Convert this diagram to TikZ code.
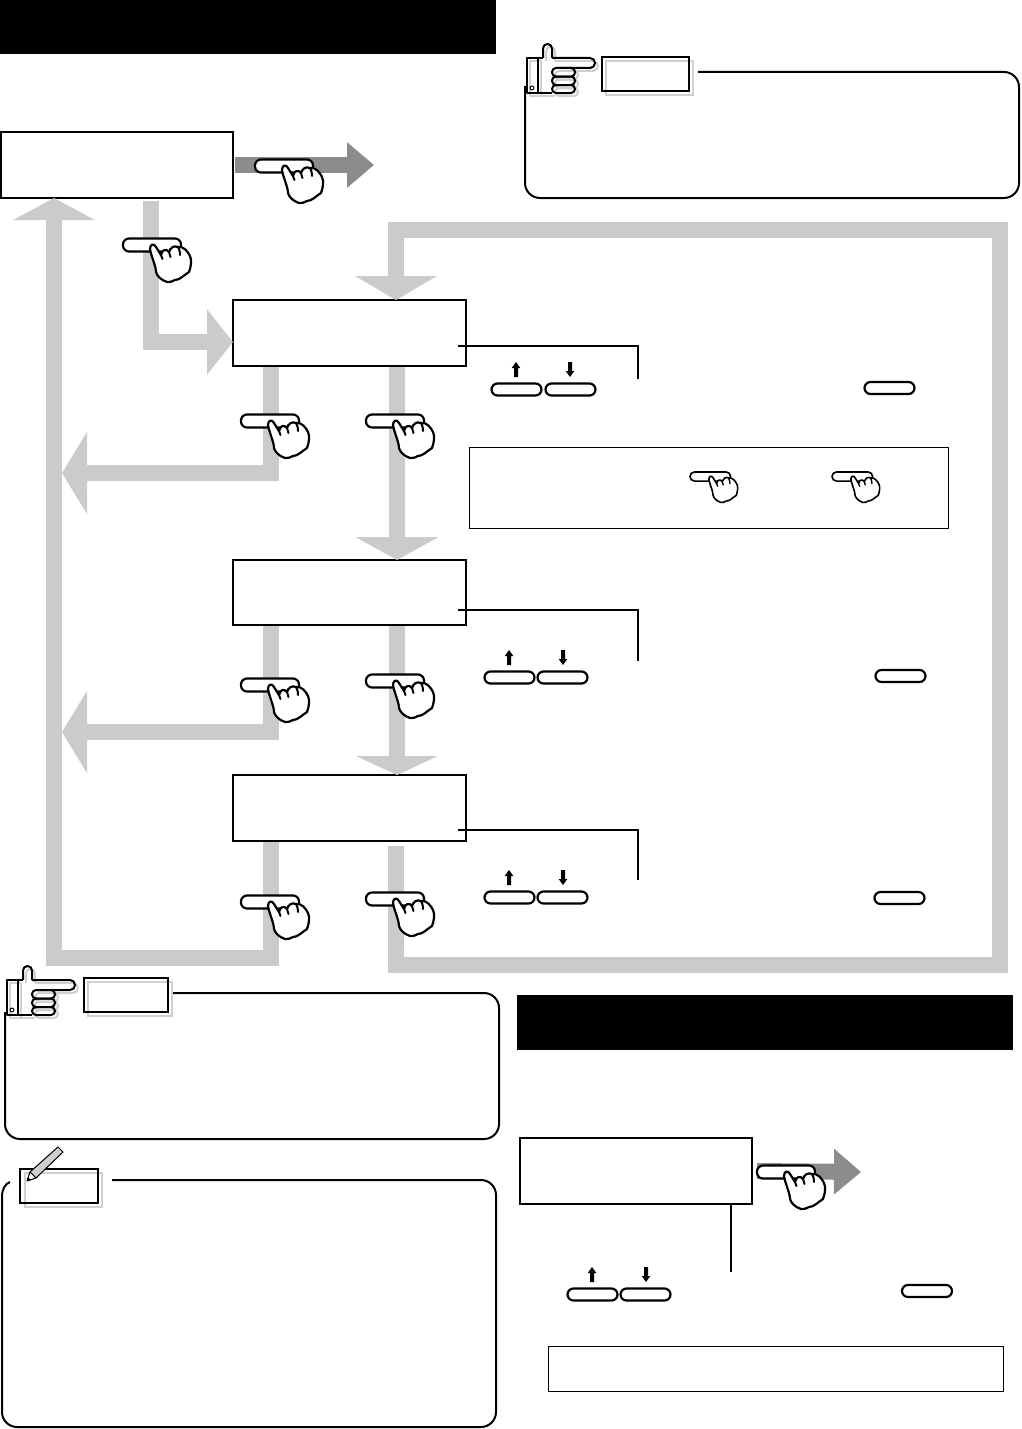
\documentclass[tikz,border=0pt]{standalone}
\usetikzlibrary{arrows.meta}
\definecolor{lightarrow}{HTML}{CBCBCB}
\definecolor{darkarrow}{HTML}{8C8C8C}
\definecolor{shadowgray}{HTML}{D0D0D0}
\newcommand{\handsilhouette}[2]{%
  \draw[handline=#1,fill=white]
    (27,4) .. controls (27,-1) and (31,-2) .. (33,2)
    -- (38,10)
    .. controls (39,5) and (43,3) .. (46,7)
    .. controls (47,3) and (51,0) .. (55,2)
    .. controls (61,1) and (65,7) .. (67,11)
    .. controls (69,15) and (68,22) .. (66,27)
    .. controls (61,30) and (57,35) .. (52,35)
    .. controls (49,36) and (47,38) .. (44,37)
    .. controls (38,35) and (34,31) .. (33,27)
    .. controls (33,21) and (28,11) .. (27,4) -- cycle;
  \draw[handline=#2] (38,10) -- (39.5,14);
  \draw[handline=#2] (46,7) -- (47.5,12);
  \draw[handline=#2] (55,2) .. controls (56,4) and (57,6) .. (57,10);
}
\tikzset{
  lcd/.style={draw=black,fill=white,line width=2pt,inner sep=0pt,outer sep=0pt},
  bar/.style={fill=black,inner sep=0pt,outer sep=0pt},
  thinbox/.style={draw=black,line width=1pt,inner sep=0pt,outer sep=0pt},
  keybtn/.style={draw=black,fill=white,line width=2.2pt,inner sep=0pt,outer sep=0pt,minimum width=50pt,minimum height=12pt,rounded corners=6pt},
  tagbox/.style={draw=black,line width=2.4pt,inner sep=0pt,outer sep=0pt},
  tagshadow/.style={draw=shadowgray,line width=2pt},
  notebox/.style={draw=black,line width=2pt,rounded corners=15pt},
  leader/.style={draw=black,line width=2pt},
  lightflow/.style={draw=lightarrow,line width=16pt},
  darkflow/.style={draw=darkarrow,line width=16pt},
  handline/.style={draw=black,line width=#1,line join=round,line cap=round},
  pressbtn/.pic={
    \draw[handline=2.2pt,fill=white,rounded corners=6pt] (0,-6.5) rectangle (58,6.5);
    \handsilhouette{2.2pt}{2pt}
  },
  smallpress/.pic={
    \begin{scope}[scale=.7]
      \draw[handline=1.6pt,fill=white,rounded corners=4.5pt] (0,-6.5) rectangle (58,6.5);
      \handsilhouette{1.6pt}{1.4pt}
    \end{scope}
  },
  uparrowkey/.pic={\fill[black] (-2,15) -- (-2,6) -- (-4.3,6) -- (0,0) -- (4.3,6) -- (2,6) -- (2,15) -- cycle;},
  downarrowkey/.pic={\fill[black] (-2,0) -- (-2,9) -- (-4.3,9) -- (0,15) -- (4.3,9) -- (2,9) -- (2,0) -- cycle;},
  pointhand/.pic={
    \begin{scope}[shift={(3,3)},draw=shadowgray,line width=2pt,line join=round]
      \draw (0,0) rectangle (11,35);
      \draw[rounded corners=4.4pt] (16,0) -- (16,-14) -- (25,-14) -- (25,0);
      \draw[rounded corners=4.9pt] (25,0) -- (68,0) -- (68,10) -- (30,10);
      \draw[rounded corners=4pt] (25,10) rectangle (48,18.5);
      \draw[rounded corners=4pt] (25,18.5) rectangle (48,27);
      \draw[rounded corners=4pt] (25,27) rectangle (48,35);
      \draw (11,35) -- (25,35);
    \end{scope}
    \begin{scope}[draw=black,line width=2pt,line join=round]
      \draw (0,0) rectangle (11,35);
      \draw[line width=1pt] (5,30) circle (2pt);
      \draw (11,0) -- (16,0);
      \draw[rounded corners=4.4pt] (16,0) -- (16,-14) -- (25,-14) -- (25,0);
      \draw[rounded corners=4.9pt] (25,0) -- (68,0) -- (68,10) -- (30,10);
      \draw[rounded corners=4pt] (25,10) rectangle (48,18.5);
      \draw[rounded corners=4pt] (25,18.5) rectangle (48,27);
      \draw[rounded corners=4pt] (25,27) rectangle (48,35);
      \draw (11,35) -- (25,35);
    \end{scope}
  },
}
\begin{document}
\begin{tikzpicture}[x=1pt,y=-1pt]
\useasboundingbox (0,0) rectangle (1021,1429);
\fill[white] (0,0) rectangle (1021,1429);

% title bars
\node[bar,minimum width=496pt,minimum height=54.5pt] (titleA) at (248,27.25) {};
\node[bar,minimum width=496pt,minimum height=55pt] (titleB) at (765,1022.5) {};

% display boxes
\node[lcd,minimum width=232pt,minimum height=66pt] (start) at (117,165) {};
\node[lcd,minimum width=233pt,minimum height=66pt] (stepA) at (349.5,333) {};
\node[lcd,minimum width=233pt,minimum height=65pt] (stepB) at (349.5,592.5) {};
\node[lcd,minimum width=233pt,minimum height=66pt] (stepC) at (349.5,808) {};
\node[lcd,minimum width=232pt,minimum height=66pt] (stepD) at (636,1171) {};
\node[thinbox,minimum width=479pt,minimum height=81pt] (hintA) at (708.5,487.5) {};
\node[thinbox,minimum width=455pt,minimum height=45pt] (hintB) at (775.5,1368.5) {};

% routing coordinates
\coordinate (exitTipA) at (62,473);
\coordinate (exitTipB) at (62,732);
\coordinate (goal) at (374,165);
\coordinate (goalD) at (861,1172);
\coordinate (upTip) at (54,198);
\coordinate (topTip) at (396,300);

% gray flow arrows
\draw[darkflow,-{Triangle[width=44pt,length=27pt]}] ([xshift=2pt]start.east) -- (goal);
\draw[darkflow,-{Triangle[width=44pt,length=27pt]}] ([xshift=5pt]stepD.east) -- (goalD);
\draw[lightflow,-{Triangle[width=64pt,length=26pt]},shorten <=3pt] ([xshift=34pt]start.south) |- ([yshift=-9pt]stepA.west);
\draw[lightflow,-{Triangle[width=81pt,length=25pt]},shorten <=1pt] ([xshift=-78.5pt]stepA.south) |- (exitTipA);
\draw[lightflow,-{Triangle[width=82pt,length=23pt]},shorten <=1pt] ([xshift=47.5pt]stepA.south) -- ([xshift=47.5pt]stepB.north);
\draw[lightflow,-{Triangle[width=81pt,length=25pt]},shorten <=1pt] ([xshift=-78.5pt]stepB.south) |- (exitTipB);
\draw[lightflow,-{Triangle[width=81pt,length=19pt]},shorten <=1pt] ([xshift=47.5pt]stepB.south) -- ([xshift=47.5pt]stepC.north);
\draw[lightflow,-{Triangle[width=81pt,length=22pt]},line join=miter,shorten <=1pt] ([xshift=-78.5pt]stepC.south) -- ++(0,117) -| (upTip);
\draw[lightflow,-{Triangle[width=81pt,length=24pt]},line join=miter,shorten <=5pt] ([xshift=46.5pt]stepC.south) -- ++(0,124) -- ++(604,0) -- ++(0,-735) -- ++(-604,0) -- (topTip);

% note panels
\draw[notebox] (698,72) -- (1019,72) -- (1019,198) -- (525,198) -- (525,86);
\draw[notebox] (172,993) -- (499,993) -- (499,1139) -- (5,1139) -- (5,1012);
\draw[notebox] (112,1180) -- (496,1180) -- (496,1427) -- (2,1427) -- (2,1197);
\draw[draw=black,line width=2pt] (2,1197) .. controls (2,1189) and (5,1184) .. (10,1182);

% pointing hands and tags
\pic at (527,58) {pointhand};
\pic at (7,980) {pointhand};
\draw[tagshadow] (606,61) rectangle (693,95);
\node[tagbox,minimum width=87pt,minimum height=34pt] (tagA) at (645.5,74) {};
\draw[tagshadow] (88,982) rectangle (172,1016);
\node[tagbox,minimum width=84pt,minimum height=34pt] (tagB) at (126,995) {};
\draw[tagshadow] (25,1173) rectangle (102,1207);
\node[tagbox,minimum width=78pt,minimum height=34pt] (tagC) at (59,1186) {};

% pencil
\draw[black,line width=1pt,fill=shadowgray,line join=round] (30,1172) -- (58,1147) -- (63,1152) -- (36,1178) -- cycle;
\draw[black,line width=1pt,fill=white,line join=round] (30,1172) -- (27,1181) -- (36,1178) -- cycle;
\fill[black] (27,1181) -- (28,1177) -- (31,1180) -- cycle;

% leaders from displays to keys
\coordinate (leadA) at (638,379);
\coordinate (leadB) at (638,661);
\coordinate (leadC) at (638,880);
\coordinate (leadD) at (731,1272);
\draw[leader] ([xshift=-8pt,yshift=-13pt]stepA.east) -| (leadA);
\draw[leader] ([xshift=-8pt,yshift=-17.5pt]stepB.east) -| (leadB);
\draw[leader] ([xshift=-8pt,yshift=-22pt]stepC.east) -| (leadC);
\draw[leader] ([xshift=95pt]stepD.south) -- (leadD);

% keys
\node[keybtn] (kA1) at (516.5,389.5) {};
\node[keybtn] (kA2) at (570.5,389.5) {};
\node[keybtn] (kA3) at (889.5,388) {};
\node[keybtn] (kB1) at (509.5,677.5) {};
\node[keybtn] (kB2) at (562.5,677.5) {};
\node[keybtn] (kB3) at (900.5,676) {};
\node[keybtn] (kC1) at (509.5,897.5) {};
\node[keybtn] (kC2) at (562.5,897.5) {};
\node[keybtn] (kC3) at (899.5,898) {};
\node[keybtn] (kD1) at (592.5,1294.5) {};
\node[keybtn] (kD2) at (645.5,1294.5) {};
\node[keybtn] (kD3) at (927,1291) {};

\pic at (516,362) {uparrowkey};
\pic at (570,362) {downarrowkey};
\pic at (509,650) {uparrowkey};
\pic at (563,650) {downarrowkey};
\pic at (509,870) {uparrowkey};
\pic at (563,870) {downarrowkey};
\pic at (592,1267) {uparrowkey};
\pic at (646,1267) {downarrowkey};

% pressing hands
\pic at (255,166) {pressbtn};
\pic at (123,245) {pressbtn};
\pic at (241,421) {pressbtn};
\pic at (366,421) {pressbtn};
\pic at (241,685) {pressbtn};
\pic at (366,681) {pressbtn};
\pic at (241,902) {pressbtn};
\pic at (366,899) {pressbtn};
\pic at (757,1172) {pressbtn};
\pic at (690,476.5) {smallpress};
\pic at (832,476.5) {smallpress};
\end{tikzpicture}
\end{document}
